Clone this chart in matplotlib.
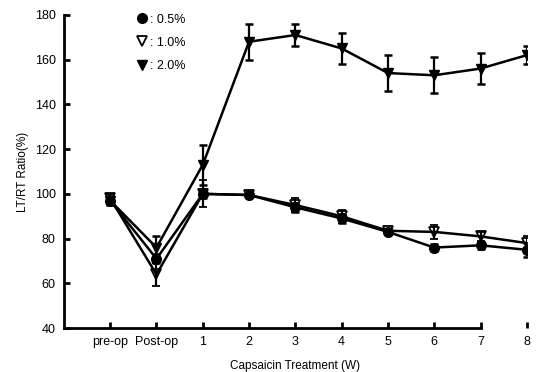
import matplotlib
matplotlib.use("Agg")
import matplotlib.pyplot as plt
from matplotlib.lines import Line2D
import numpy as np

# data
labels = ["pre-op", "Post-op", "1", "2", "3", "4", "5", "6", "7", "8"]
c05 = [97, 71, 100, 99.5, 94, 89, 83, 76, 77, 75]
e05 = [1.5, 2, 2, 1, 2, 2, 1, 1.5, 1.5, 3]
c10 = [98, 64, 100, 99.5, 95, 90, 83.5, 83, 81, 78]
e10 = [2, 5, 6, 1, 3, 3, 1, 3, 2, 3]
c20 = [97, 76, 113, 168, 171, 165, 154, 153, 156, 162]
e20 = [2, 5, 9, 8, 5, 7, 8, 8, 7, 4]

plt.rcParams['font.family'] = ['Liberation Sans', 'DejaVu Sans']
fig = plt.figure(figsize=(5.37, 3.72), dpi=100)
ax = fig.add_axes([0.119, 0.118, 0.862, 0.842])
x = np.arange(len(labels))

kw = dict(color="black", lw=1.8, capsize=3, capthick=1.8, elinewidth=1.6)
ax.errorbar(x, c20, yerr=e20, marker="v", ms=7.5, mfc="black", mec="black", zorder=3, **kw)
ax.errorbar(x, c05, yerr=e05, marker="o", ms=7, mfc="black", mec="black", zorder=4, **kw)
ax.errorbar(x, c10, yerr=e10, marker="v", ms=7.5, mfc="none", mec="black", mew=1.3, zorder=5, **kw)

ax.set_xlim(-1, 9)
ax.set_ylim(40, 180)
ax.set_xticks(x)
ax.set_xticklabels(labels)
ax.set_yticks(np.arange(40, 181, 20))
ax.tick_params(direction="in", width=2, length=4, labelsize=9, pad=6)
ax.spines["top"].set_visible(False)
ax.spines["right"].set_visible(False)
ax.spines["left"].set_linewidth(2)
ax.spines["bottom"].set_linewidth(2)
ax.spines["bottom"].set_bounds(-1, 8)
ax.set_ylabel("LT/RT Ratio(%)", fontsize=8.5)
ax.set_xlabel("Capsaicin Treatment (W)", fontsize=8.5, labelpad=8)

h = [Line2D([], [], ls="none", marker="o", ms=7, mfc="black", mec="black"),
     Line2D([], [], ls="none", marker="v", ms=7.5, mfc="white", mec="black", mew=1.3),
     Line2D([], [], ls="none", marker="v", ms=7.5, mfc="black", mec="black")]
ax.legend(h, [": 0.5%", ": 1.0%", ": 2.0%"], loc="upper left", bbox_to_anchor=(0.13, 1.04),
          frameon=False, fontsize=9, handletextpad=0.2, labelspacing=0.9, handlelength=1)

fig.savefig("out.png", dpi=100)
